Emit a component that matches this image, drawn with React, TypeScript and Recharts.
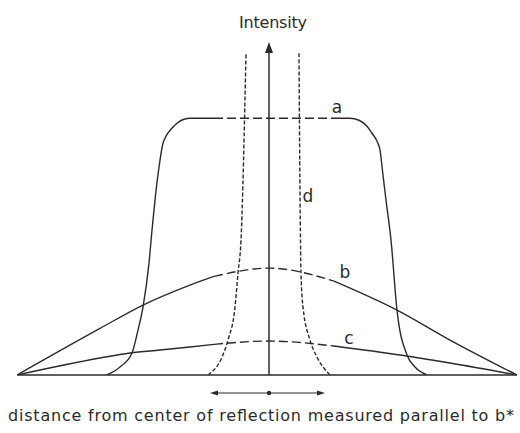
import React from 'react';
import { LineChart, Line, XAxis, YAxis, ReferenceLine, ReferenceDot } from 'recharts';

// curves: x = distance from reflection centre, y = intensity (arbitrary)
const curveA = [
  { x: -162, y: 0 }, { x: -149, y: 2.4 }, { x: -137, y: 6.6 }, { x: -131, y: 13.5 },
  { x: -126, y: 20.4 }, { x: -120, y: 33.6 }, { x: -117, y: 43.5 }, { x: -114, y: 52.5 },
  { x: -110, y: 62.4 }, { x: -106, y: 69.6 }, { x: -103, y: 71.7 }, { x: -98, y: 73.8 },
  { x: -92, y: 75.6 }, { x: -85, y: 76.8 }, { x: -79, y: 77.1 }, { x: -55, y: 77.1 },
  { x: 0, y: 77.1 }, { x: 65, y: 77.1 }, { x: 81, y: 77.1 }, { x: 90, y: 76.5 },
  { x: 98, y: 74.7 }, { x: 103, y: 72.6 }, { x: 108, y: 70.2 }, { x: 111, y: 67.5 },
  { x: 114, y: 60 }, { x: 117, y: 52.5 }, { x: 122, y: 40.5 }, { x: 128, y: 19.5 },
  { x: 138, y: 6.0 }, { x: 146, y: 2.4 }, { x: 158, y: 0 },
];
const curveB = [
  { x: -252, y: 0 }, { x: -169, y: 14 }, { x: -126, y: 21 }, { x: -79, y: 27 },
  { x: -55, y: 29.6 }, { x: 0, y: 32.1 }, { x: 65, y: 28.2 }, { x: 128, y: 19.5 },
  { x: 181, y: 10.5 }, { x: 248, y: 0 },
];
const curveC = [
  { x: -252, y: 0 }, { x: -169, y: 5.1 }, { x: -139, y: 6.6 }, { x: -109, y: 7.5 },
  { x: -79, y: 8.4 }, { x: -55, y: 9.2 }, { x: 0, y: 10.2 }, { x: 65, y: 8.7 },
  { x: 131, y: 6 }, { x: 181, y: 3.6 }, { x: 248, y: 0 },
];
const curveDLeft = [
  { x: -61, y: 0 }, { x: -47, y: 5.4 }, { x: -41, y: 10.5 }, { x: -34, y: 20.4 },
  { x: -31, y: 30.6 }, { x: -28, y: 40.5 }, { x: -23, y: 96.6 },
];
const curveDRight = [
  { x: 30, y: 96.6 }, { x: 31, y: 54.6 }, { x: 32, y: 30.6 }, { x: 34, y: 20.4 },
  { x: 41, y: 10.5 }, { x: 48, y: 5.4 }, { x: 61, y: 0 },
];

const dashFrom = -55;
const dashTo = 65;
const rangeArrow = { left: -59, right: 56, y: -5.4 };

const labels = [
  { text: 'a', x: 68, y: 80.4 },
  { text: 'b', x: 76, y: 30.9 },
  { text: 'c', x: 80, y: 11.1 },
  { text: 'd', x: 39, y: 53.7 },
];

const INK = '#2b2b2b';
const FONT = '"DejaVu Sans", sans-serif';

function split(pts) {
  return [
    pts.filter((p) => p.x <= dashFrom),
    pts.filter((p) => p.x >= dashFrom && p.x <= dashTo),
    pts.filter((p) => p.x >= dashTo),
  ];
}

const arrowShape = (len: number, half: number, width: number) => (p) => {
  const { x1, y1, x2, y2 } = p;
  const dx = x2 - x1;
  const dy = y2 - y1;
  const d = Math.sqrt(dx * dx + dy * dy) || 1;
  const ux = dx / d;
  const uy = dy / d;
  const bx = x2 - ux * len;
  const by = y2 - uy * len;
  return (
    <g>
      <line x1={x1} y1={y1} x2={bx} y2={by} stroke={INK} strokeWidth={width} />
      <polygon
        points={`${x2},${y2} ${bx - uy * half},${by + ux * half} ${bx + uy * half},${by - ux * half}`}
        fill={INK}
      />
    </g>
  );
};

const textShape = (str: string, size: number, length?: number) => (p) => (
  <text
    x={p.cx}
    y={p.cy}
    textAnchor="middle"
    dominantBaseline={length ? 'alphabetic' : 'central'}
    fontFamily={FONT}
    fontSize={size}
    fill={INK}
    textLength={length}
    lengthAdjust="spacing"
  >
    {str}
  </text>
);

export default function App() {
  const [aL, aM, aR] = split(curveA);
  const [bL, bM, bR] = split(curveB);
  const [cL, cM, cR] = split(curveC);

  const solid = (key: string, data, dash?: string) => (
    <Line
      key={key}
      data={data}
      dataKey="y"
      type="monotone"
      stroke={INK}
      strokeWidth={1.4}
      strokeDasharray={dash}
      dot={false}
      activeDot={false}
      legendType="none"
      isAnimationActive={false}
    />
  );

  return (
    <div style={{ position: 'absolute', left: 0, top: 0, width: 520, height: 433, background: '#fff' }}>
      <LineChart width={520} height={433} margin={{ top: 42, right: 3, bottom: 58, left: 17 }}>
        <XAxis type="number" dataKey="x" domain={[-252, 248]} allowDataOverflow hide />
        <YAxis type="number" domain={[0, 100]} allowDataOverflow hide />

        <ReferenceLine y={0} stroke={INK} strokeWidth={1.5} />
        <ReferenceLine
          segment={[{ x: 0, y: 0 }, { x: 0, y: 100 }]}
          ifOverflow="visible"
          shape={arrowShape(11, 4, 1.5)}
        />

        {solid('aL', aL)}
        {solid('aM', aM, '9 4')}
        {solid('aR', aR)}
        {solid('bL', bL)}
        {solid('bM', bM, '9 4')}
        {solid('bR', bR)}
        {solid('cL', cL)}
        {solid('cM', cM, '9 4')}
        {solid('cR', cR)}
        {solid('dL', curveDLeft, '4 2')}
        {solid('dR', curveDRight, '4 2')}

        <ReferenceLine
          segment={[{ x: 0, y: rangeArrow.y }, { x: rangeArrow.left, y: rangeArrow.y }]}
          ifOverflow="visible"
          shape={arrowShape(8, 2.5, 1.2)}
        />
        <ReferenceLine
          segment={[{ x: 0, y: rangeArrow.y }, { x: rangeArrow.right, y: rangeArrow.y }]}
          ifOverflow="visible"
          shape={arrowShape(8, 2.5, 1.2)}
        />
        <ReferenceDot x={0} y={rangeArrow.y} r={2.2} fill={INK} stroke="none" ifOverflow="visible" />

        {labels.map((l) => (
          <ReferenceDot key={l.text} x={l.x} y={l.y} r={0} ifOverflow="visible" shape={textShape(l.text, 17)} />
        ))}
        <ReferenceDot x={4} y={104.1} r={0} ifOverflow="visible" shape={textShape('Intensity', 16, 68)} />
        <ReferenceDot
          x={-8}
          y={-13.8}
          r={0}
          ifOverflow="visible"
          shape={textShape('distance from center of reflection measured parallel to b*', 16, 506)}
        />
      </LineChart>
    </div>
  );
}
